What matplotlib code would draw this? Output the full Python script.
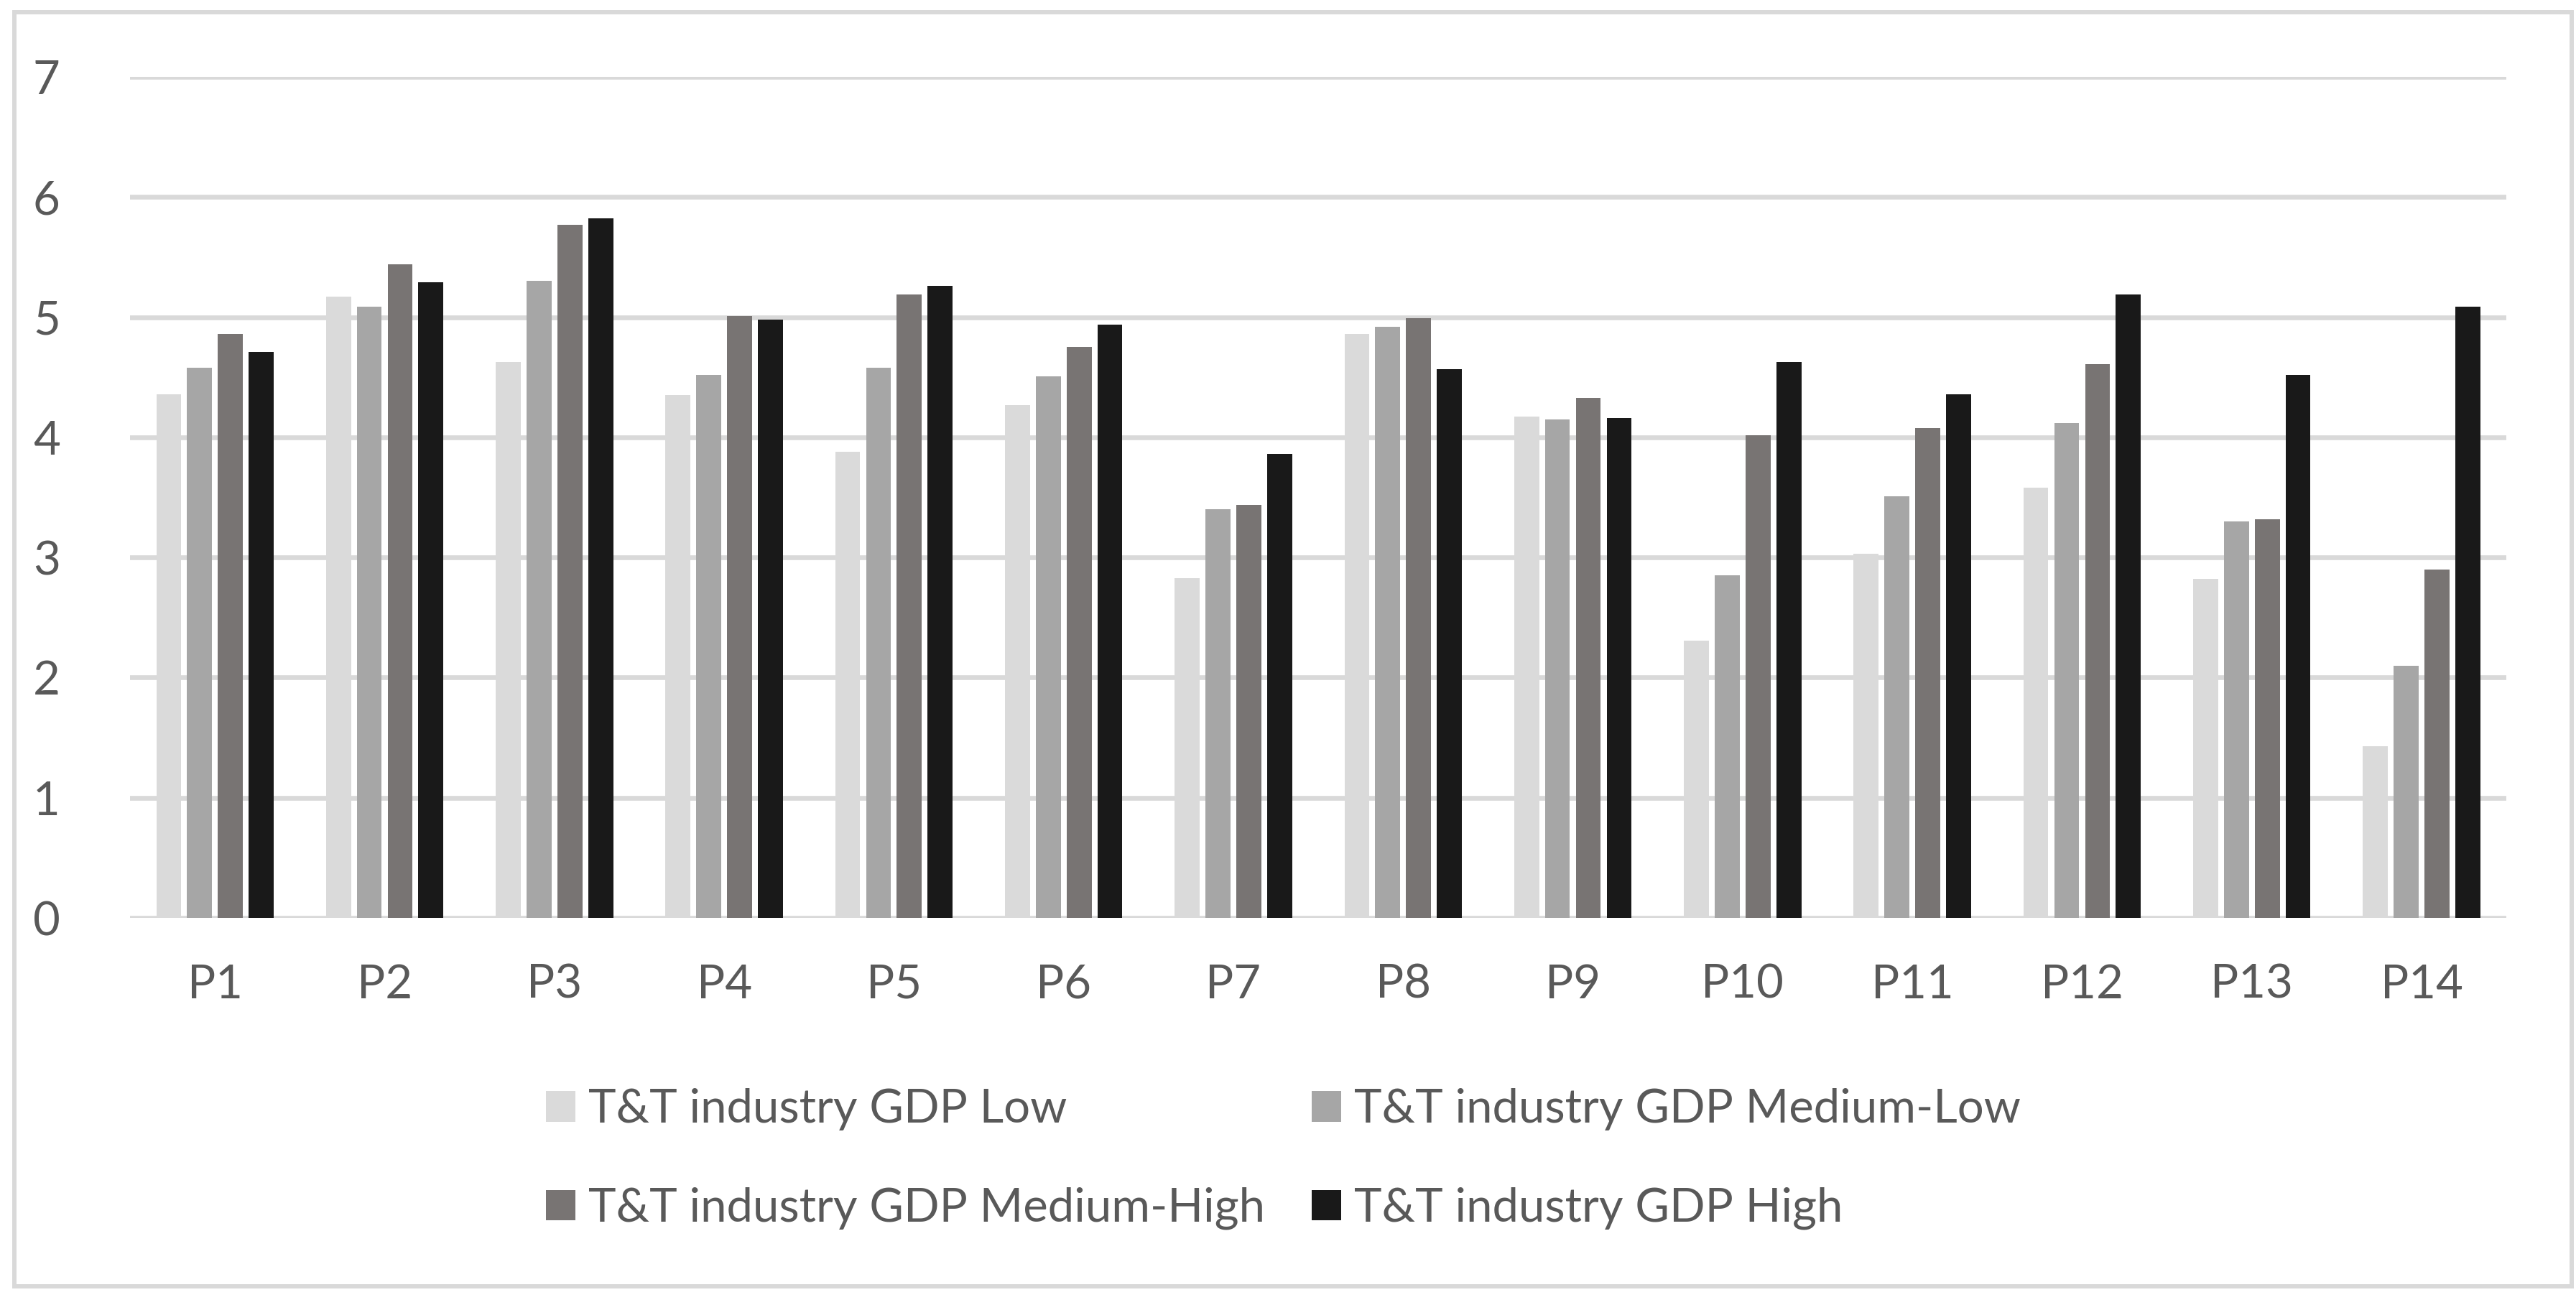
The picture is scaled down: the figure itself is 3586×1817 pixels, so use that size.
import matplotlib.pyplot as plt
import numpy as np
from matplotlib.patches import Rectangle

plt.rcParams['font.family'] = ['Lato', 'DejaVu Sans']

categories = ["P1", "P2", "P3", "P4", "P5", "P6", "P7",
              "P8", "P9", "P10", "P11", "P12", "P13", "P14"]
series_names = ["T&T industry GDP Low", "T&T industry GDP Medium-Low",
                "T&T industry GDP Medium-High", "T&T industry GDP High"]

gdp_low = [4.36, 5.17, 4.63, 4.35, 3.88, 4.27, 2.83,
           4.86, 4.17, 2.31, 3.03, 3.58, 2.82, 1.43]
gdp_med_low = [4.58, 5.09, 5.30, 4.52, 4.58, 4.51, 3.40,
               4.92, 4.15, 2.85, 3.51, 4.12, 3.30, 2.10]
gdp_med_high = [4.86, 5.44, 5.77, 5.01, 5.19, 4.75, 3.44,
                4.99, 4.33, 4.02, 4.08, 4.61, 3.32, 2.90]
gdp_high = [4.71, 5.29, 5.82, 4.98, 5.26, 4.94, 3.86,
            4.57, 4.16, 4.63, 4.36, 5.19, 4.52, 5.09]

colors = ["#dadada", "#a6a6a6", "#787473", "#191919"]
text_col = "#595959"
grid_col = "#d9d9d9"

fig = plt.figure(figsize=(35.86, 18.17), dpi=100)
ax = fig.add_axes([0.0505, 0.2966, 0.9225, 0.6445])

x = np.arange(len(categories))
width = 0.147
step = 0.1815
all_series = [gdp_low, gdp_med_low, gdp_med_high, gdp_high]
bars = []
for i, vals in enumerate(all_series):
    b = ax.bar(x + (i - 1.5) * step, vals, width, color=colors[i],
               label=series_names[i], zorder=3)
    bars.append(b)

ax.set_xlim(-0.5, len(categories) - 0.5)
ax.set_ylim(0, 7)
ax.set_yticks(range(0, 8))
ax.set_xticks(x)
ax.set_xticklabels(categories)
ax.yaxis.grid(True, color=grid_col, linewidth=4.8, zorder=0)
ax.set_axisbelow(True)
for s in ax.spines.values():
    s.set_visible(False)
ax.tick_params(axis='both', length=0, labelsize=47, labelcolor=text_col)
ax.tick_params(axis='y', pad=70)
ax.tick_params(axis='x', pad=46)

# legend is filled row by row in the reference, matplotlib fills by column
order = [0, 2, 1, 3]
fig.legend([bars[i] for i in order], [series_names[i] for i in order],
           loc='upper left', bbox_to_anchor=(0.212, 0.166), ncol=2,
           frameon=False, fontsize=47, labelcolor=text_col,
           handlelength=0.62, handleheight=0.62, handletextpad=0.28,
           columnspacing=1.0, labelspacing=1.2, borderpad=0,
           borderaxespad=0)

fig.patches.append(Rectangle((20 / 3586, 1 - 1791 / 1817),
                             3560 / 3586, 1774 / 1817,
                             transform=fig.transFigure, fill=False,
                             edgecolor=grid_col, linewidth=4.3))

fig.savefig("out.png", dpi=100)
